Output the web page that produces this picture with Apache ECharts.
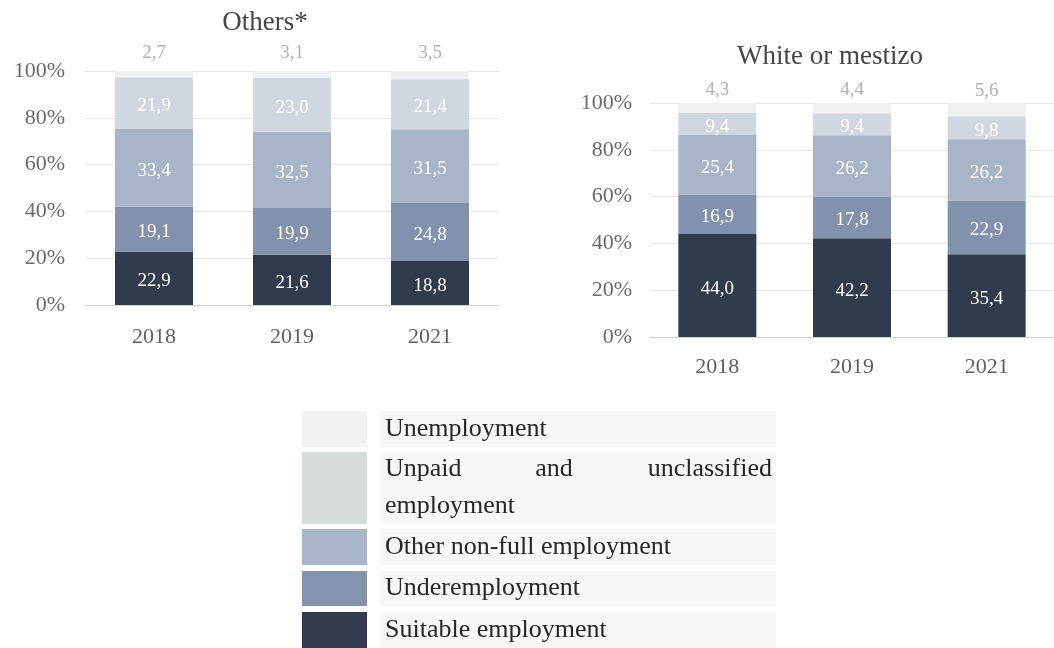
<!DOCTYPE html>
<html>
<head>
<meta charset="utf-8">
<script src="https://cdn.jsdelivr.net/npm/echarts@6/dist/echarts.min.js"></script>
<style>
  html, body { margin: 0; padding: 0; background: #ffffff; }
  #chart { width: 1054px; height: 648px; }
</style>
</head>
<body>
<div id="chart"></div>
<script>
// Employment status by self-identification, share of the labour force (%)
const categories = ['2018', '2019', '2021'];
const seriesNames = [
  'Suitable employment',
  'Underemployment',
  'Other non-full employment',
  'Unpaid and unclassified employment',
  'Unemployment'
];
const legendOrder = [4, 3, 2, 1, 0];

// "Others*"
const othersSuitable = [22.9, 21.6, 18.8];
const othersUnder = [19.1, 19.9, 24.8];
const othersOtherNonFull = [33.4, 32.5, 31.5];
const othersUnpaid = [21.9, 23.0, 21.4];
const othersUnemployment = [2.7, 3.1, 3.5];

// "White or mestizo"
const whiteSuitable = [44.0, 42.2, 35.4];
const whiteUnder = [16.9, 17.8, 22.9];
const whiteOtherNonFull = [25.4, 26.2, 26.2];
const whiteUnpaid = [9.4, 9.4, 9.8];
const whiteUnemployment = [4.3, 4.4, 5.6];

const panelTitles = ['Others*', 'White or mestizo'];

// colours, bottom segment first
const barColors = ['#313b4e', '#8292ac', '#a8b4c7', '#d1d7e0', '#f0f0f0'];
const legendColors = ['#323c4e', '#8494ae', '#a9b5c8', '#d6dcdc', '#f2f2f2'];

const serif = '"Liberation Serif", "DejaVu Serif", serif';
const fmt = v => v.toFixed(1).replace('.', ',');

const panels = [
  [othersSuitable, othersUnder, othersOtherNonFull, othersUnpaid, othersUnemployment],
  [whiteSuitable, whiteUnder, whiteOtherNonFull, whiteUnpaid, whiteUnemployment]
];
const topLabelDistance = [8, 3];

const series = [];
panels.forEach((panel, p) => {
  panel.forEach((values, s) => {
    const isTop = s === panel.length - 1;
    series.push({
      name: seriesNames[s],
      type: 'bar',
      stack: 'panel' + p,
      xAxisIndex: p,
      yAxisIndex: p,
      barWidth: 78,
      data: values,
      itemStyle: { color: barColors[s] },
      label: {
        show: true,
        position: isTop ? 'top' : 'inside',
        distance: isTop ? topLabelDistance[p] : 5,
        offset: isTop ? [0, 0] : [0, 3],
        formatter: d => fmt(d.value),
        color: isTop ? '#b0b0b0' : '#ffffff',
        fontFamily: serif,
        fontSize: 19
      },
      emphasis: { disabled: true },
      animation: false
    });
  });
});

const grids = [
  { left: 85, top: 71, width: 414, height: 234 },
  { left: 650, top: 103, width: 414, height: 234 }
];

const xAxes = grids.map((g, i) => ({
  type: 'category',
  gridIndex: i,
  data: categories,
  axisTick: { show: false },
  axisLine: { show: true, lineStyle: { color: '#d0d0d0', width: 1 } },
  axisLabel: {
    margin: i === 0 ? 21 : 19,
    color: '#5f5f5f',
    fontFamily: serif,
    fontSize: 22
  }
}));

const yAxes = grids.map((g, i) => ({
  type: 'value',
  gridIndex: i,
  min: 0,
  max: 100,
  interval: 20,
  axisLine: { show: false },
  axisTick: { show: false },
  splitLine: { lineStyle: { color: '#e6e6e6', width: 1 } },
  axisLabel: {
    margin: i === 0 ? 20 : 18,
    formatter: '{value}%',
    color: '#6a6a6a',
    fontFamily: serif,
    fontSize: 22
  }
}));

// legend drawn as a two-column table: swatch | label on a pale band
const legendRows = [
  { top: 411, height: 36 },
  { top: 452, height: 72 },
  { top: 529, height: 36 },
  { top: 571, height: 35 },
  { top: 612, height: 36 }
];
const graphic = [];
const legendFont = '26px ' + serif;
legendOrder.forEach((s, r) => {
  const row = legendRows[r];
  graphic.push({
    type: 'rect', silent: true,
    shape: { x: 302, y: row.top, width: 65, height: row.height },
    style: { fill: legendColors[s] }
  });
  graphic.push({
    type: 'rect', silent: true,
    shape: { x: 380, y: row.top, width: 396, height: row.height },
    style: { fill: '#f6f7f9' }
  });
  const name = seriesNames[s];
  if (row.height > 40) {
    // justified two-line label
    const words = name.split(' ');
    const lineY = row.top + 17;
    graphic.push({ type: 'text', silent: true, style: { text: words[0], x: 385, y: lineY, font: legendFont, fill: '#262626', align: 'left', verticalAlign: 'middle' } });
    graphic.push({ type: 'text', silent: true, style: { text: words[1], x: 554, y: lineY, font: legendFont, fill: '#262626', align: 'center', verticalAlign: 'middle' } });
    graphic.push({ type: 'text', silent: true, style: { text: words[2], x: 772, y: lineY, font: legendFont, fill: '#262626', align: 'right', verticalAlign: 'middle' } });
    graphic.push({ type: 'text', silent: true, style: { text: words.slice(3).join(' '), x: 385, y: lineY + 37, font: legendFont, fill: '#262626', align: 'left', verticalAlign: 'middle' } });
  } else {
    graphic.push({
      type: 'text', silent: true,
      style: { text: name, x: 385, y: row.top + row.height / 2, font: legendFont, fill: '#262626', align: 'left', verticalAlign: 'middle' }
    });
  }
});

const chart = echarts.init(document.getElementById('chart'), null, { renderer: 'canvas' });
chart.setOption({
  backgroundColor: '#ffffff',
  animation: false,
  title: [
    { text: panelTitles[0], left: 260, top: 4, textAlign: 'center',
      textStyle: { fontFamily: serif, fontSize: 27, fontWeight: 'normal', color: '#454545' } },
    { text: panelTitles[1], left: 825, top: 38, textAlign: 'center',
      textStyle: { fontFamily: serif, fontSize: 27, fontWeight: 'normal', color: '#454545' } }
  ],
  grid: grids,
  xAxis: xAxes,
  yAxis: yAxes,
  series: series,
  graphic: graphic
});
</script>
</body>
</html>
